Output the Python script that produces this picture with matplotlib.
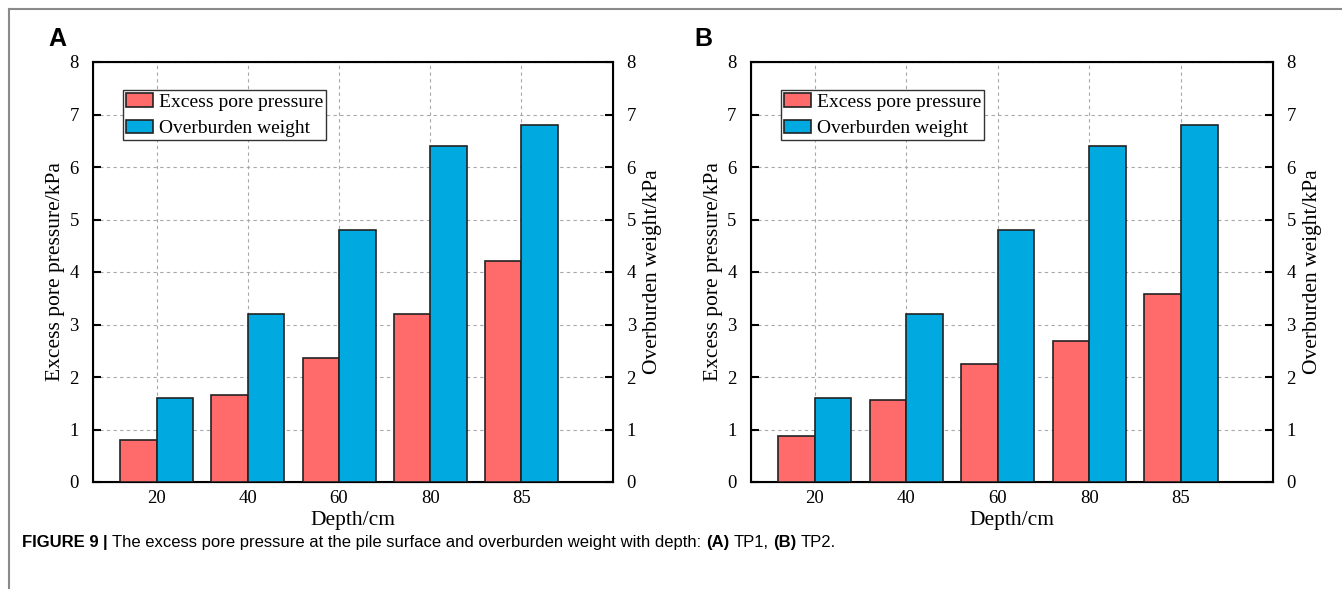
import numpy as np
import matplotlib.pyplot as plt
from matplotlib.lines import Line2D

depths = ["20", "40", "60", "80", "85"]
pore_tp1 = [0.80, 1.66, 2.36, 3.20, 4.21]
pore_tp2 = [0.87, 1.56, 2.24, 2.68, 3.58]
overburden = [1.6, 3.2, 4.8, 6.4, 6.8]

red = "#FF6B6B"
blue = "#00A9E0"
edge = "#222222"

plt.rcParams["font.family"] = "Liberation Serif"

fig = plt.figure(figsize=(13.42, 5.89), dpi=100)


def drawPanel(rect, pore, tag, tag_xy):
    ax = fig.add_axes(rect)
    x = np.arange(1, len(depths) + 1)
    w = 0.4
    ax.bar(x - w / 2, pore, w, color=red, edgecolor=edge, linewidth=1.2,
           label="Excess pore pressure", zorder=3)
    ax.bar(x + w / 2, overburden, w, color=blue, edgecolor=edge, linewidth=1.2,
           label="Overburden weight", zorder=3)
    ax.set_xlim(0.3, 6.0)
    ax.set_ylim(0, 8)
    ax.set_xticks(x)
    ax.set_xticklabels(depths)
    ax.set_yticks(range(0, 9))
    ax.grid(True, linestyle=(0, (3, 3)), color="#a8a8a8", linewidth=0.8, zorder=0)
    ax.tick_params(axis="x", length=0, pad=6, labelsize=13.5)
    ax.tick_params(axis="y", direction="in", length=6, width=1.5, pad=10, labelsize=13.5)
    for s in ax.spines.values():
        s.set_linewidth(1.5)
    ax.set_xlabel("Depth/cm", fontsize=15.5, labelpad=3)
    ax.set_ylabel("Excess pore pressure/kPa", fontsize=15.5, labelpad=3)

    ax2 = ax.twinx()
    ax2.set_ylim(0, 8)
    ax2.set_yticks(range(0, 9))
    ax2.tick_params(axis="y", direction="in", length=6, width=1.5, pad=10, labelsize=13.5)
    ax2.set_ylabel("Overburden weight/kPa", fontsize=15.5, labelpad=5)

    leg = ax.legend(loc="upper left", bbox_to_anchor=(0.058, 0.933), borderaxespad=0,
                    fontsize=14, fancybox=False, framealpha=1, edgecolor="#333333",
                    handlelength=1.4, handleheight=0.72, handletextpad=0.3,
                    labelspacing=0.45, borderpad=0.15)
    leg.get_frame().set_linewidth(1.0)
    leg.set_zorder(5)

    fig.text(tag_xy[0], tag_xy[1], tag, fontsize=18, fontweight="bold",
             family="Liberation Sans", ha="center", va="center")
    return ax


drawPanel([92.7 / 1342, 1 - 482 / 589, 520 / 1342, 420 / 589], pore_tp1, "A",
          (57 / 1342, 1 - 39 / 589))
drawPanel([750.5 / 1342, 1 - 482 / 589, 522 / 1342, 420 / 589], pore_tp2, "B",
          (703 / 1342, 1 - 39 / 589))

# page frame lines
fig.add_artist(Line2D([9 / 1342, 9 / 1342], [0, 1 - 9 / 589], transform=fig.transFigure,
                      color="#8a8a8a", linewidth=1.5))
fig.add_artist(Line2D([9 / 1342, 1], [1 - 9 / 589, 1 - 9 / 589], transform=fig.transFigure,
                      color="#8a8a8a", linewidth=1.5))

# caption, built from bold and regular pieces
pieces = [("FIGURE 9", "bold"), ("|", "bold"),
          ("The excess pore pressure at the pile surface and overburden weight with depth:", "normal"),
          ("(A)", "bold"), ("TP1,", "normal"), ("(B)", "bold"), ("TP2.", "normal")]
prev = fig.text(22 / 1342, 1 - 550 / 589, pieces[0][0], fontsize=12, fontweight=pieces[0][1],
                family="Liberation Sans", va="bottom")
for txt, wt in pieces[1:]:
    prev = fig.add_artist(plt.Annotation(
        txt, xy=(1, 0), xycoords=prev, xytext=(4.5, 0), textcoords="offset pixels",
        fontsize=12, fontweight=wt, family="Liberation Sans", va="bottom", ha="left",
        annotation_clip=False))

fig.savefig("out.png", dpi=100)
